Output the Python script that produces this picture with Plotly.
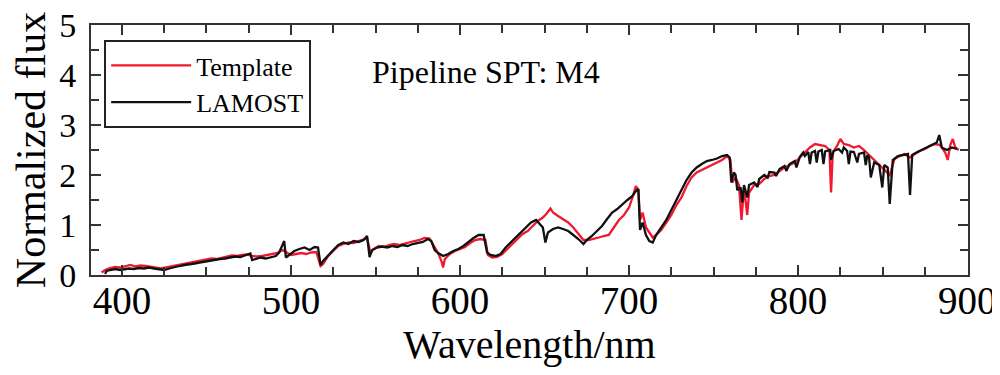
import plotly.graph_objects as go

# LAMOST observed spectrum (black), blue part (390-755 nm)
lamost_wl_a = [390, 391, 393, 396, 399, 401, 404, 407, 410, 413, 416, 419, 422, 425, 428, 431, 434, 437, 440,
               443, 446, 449, 452, 455, 458, 461, 464, 467, 470, 473, 476, 477, 479, 482, 485, 488, 491, 493,
               495, 496, 497, 499, 502, 505, 508, 511, 514, 516, 517.5, 519, 522, 525, 528, 531, 534, 537, 540,
               543, 545, 546.5, 548, 551, 554, 557, 560, 563, 566, 569, 572, 575, 578, 581, 583, 585, 587, 590,
               593, 596, 599, 602, 605, 608, 611, 614, 616, 618, 621, 624, 627, 630, 633, 636, 639, 642, 645,
               647, 649, 650.5, 652, 655, 658, 661, 664, 667, 670, 673, 675, 678, 681, 684, 687, 690, 693, 696,
               699, 702, 704, 705.5, 706.5, 708, 710, 712, 714, 716, 719, 722, 725, 728, 731, 734, 737, 740, 743,
               746, 749, 752, 755]
lamost_flux_a = [0.02, 0.08, 0.10, 0.12, 0.10, 0.11, 0.13, 0.12, 0.14, 0.13, 0.15, 0.13, 0.12, 0.10, 0.13, 0.16,
                 0.18, 0.20, 0.21, 0.23, 0.25, 0.27, 0.28, 0.30, 0.32, 0.33, 0.35, 0.37, 0.36, 0.40, 0.43, 0.30,
                 0.32, 0.35, 0.33, 0.36, 0.38, 0.45, 0.62, 0.68, 0.35, 0.40, 0.48, 0.52, 0.55, 0.50, 0.56, 0.55,
                 0.20, 0.28, 0.40, 0.50, 0.60, 0.65, 0.62, 0.68, 0.66, 0.70, 0.78, 0.36, 0.50, 0.55, 0.57, 0.55,
                 0.58, 0.56, 0.60, 0.58, 0.62, 0.64, 0.66, 0.72, 0.68, 0.50, 0.44, 0.38, 0.42, 0.48, 0.52, 0.58,
                 0.66, 0.74, 0.80, 0.80, 0.45, 0.40, 0.38, 0.42, 0.55, 0.65, 0.75, 0.85, 0.95, 1.05, 1.10, 1.02,
                 0.95, 0.65, 0.85, 0.92, 0.95, 0.92, 0.88, 0.80, 0.72, 0.62, 0.70, 0.78, 0.88, 0.98, 1.12, 1.25,
                 1.32, 1.42, 1.50, 1.58, 1.68, 1.72, 0.90, 1.05, 0.80, 0.68, 0.65, 0.80, 0.95, 1.10, 1.30, 1.50,
                 1.70, 1.90, 2.05, 2.15, 2.22, 2.28, 2.30, 2.33, 2.38]

# LAMOST observed spectrum (black), red part (758-894 nm)
lamost_wl_b = [758, 759.5, 760.5, 762, 763, 764, 766, 767, 768, 770,
               771, 774, 776, 777, 780, 782, 783, 786, 787, 789,
               792, 793, 795, 798, 799, 801, 803, 804, 806, 807,
               808, 810, 811, 812, 814, 815, 816, 819, 819.5, 821,
               824, 826, 827, 829, 830, 831, 833, 835, 836, 839,
               840, 841, 842, 843, 845, 848, 849.8, 851, 853, 854.2,
               856, 859, 862, 865, 866.2, 867.5, 870, 873, 876, 879,
               882, 883.5, 885, 888, 891, 894]
lamost_flux_b = [2.40, 2.35, 1.85, 2.05, 2.00, 1.70, 1.75, 1.45, 1.80, 1.55,
                 1.80, 1.85, 1.76, 1.92, 2.00, 1.95, 2.06, 2.05, 1.98, 2.12,
                 2.18, 2.08, 2.22, 2.28, 2.15, 2.36, 2.45, 2.38, 2.46, 2.22,
                 2.45, 2.48, 2.25, 2.47, 2.50, 2.22, 2.47, 2.50, 2.30, 2.48,
                 2.52, 2.45, 2.55, 2.48, 2.22, 2.47, 2.46, 2.25, 2.42, 2.45,
                 2.20, 2.40, 2.35, 1.95, 2.25, 2.20, 1.75, 2.20, 2.15, 1.42,
                 2.30, 2.38, 2.40, 2.42, 1.60, 2.40, 2.45, 2.50, 2.55, 2.60,
                 2.65, 2.80, 2.55, 2.50, 2.55, 2.52]

# Template spectrum (red)
template_wl = [388, 390, 393, 396, 399, 402, 405, 408, 411, 414, 417, 420, 423, 426, 429, 432, 435, 438, 441,
               444, 447, 450, 453, 456, 459, 462, 465, 468, 471, 474, 477, 480, 483, 486, 489, 492, 495, 497,
               500, 503, 506, 509, 512, 515, 517.5, 519, 522, 525, 528, 531, 534, 537, 540, 543, 545, 547, 549,
               552, 555, 558, 561, 564, 567, 570, 573, 576, 579, 582, 585, 587, 589, 590, 591, 594, 597, 600,
               603, 606, 609, 612, 615, 616.5, 619, 622, 625, 628, 631, 634, 637, 640, 643, 646, 649, 651, 653.5,
               655, 658, 661, 664, 667, 670, 673, 676, 679, 682, 685, 688, 691, 694, 697, 700, 702, 704, 705.5,
               706.5, 708, 710, 712, 714, 716, 719, 722, 725, 728, 731, 734, 737, 740, 743, 746, 749, 752, 755,
               758, 760, 761, 763, 765, 766.5, 768, 769.9, 771, 774, 777, 780, 783, 786, 789, 792, 795, 798, 801,
               804, 807, 810, 813, 816, 818.5, 819.5, 820.5, 823, 825, 827, 830, 833, 836, 839, 842, 845, 848,
               851, 854.2, 857, 860, 863, 866, 869, 872, 875, 878, 881, 884, 887, 888.5, 890, 891.5, 893, 895]
template_flux = [0.05, 0.10, 0.14, 0.16, 0.15, 0.18, 0.20, 0.17, 0.19, 0.18, 0.16, 0.15, 0.13, 0.15, 0.17,
                 0.19, 0.21, 0.24, 0.26, 0.28, 0.30, 0.31, 0.33, 0.32, 0.35, 0.37, 0.39, 0.38, 0.40, 0.41, 0.38,
                 0.37, 0.38, 0.40, 0.42, 0.44, 0.50, 0.46, 0.40, 0.42, 0.44, 0.42, 0.45, 0.46, 0.18, 0.22, 0.38,
                 0.48, 0.58, 0.62, 0.65, 0.64, 0.68, 0.72, 0.74, 0.45, 0.52, 0.58, 0.56, 0.60, 0.62, 0.60, 0.63,
                 0.66, 0.68, 0.70, 0.74, 0.73, 0.55, 0.44, 0.28, 0.15, 0.32, 0.42, 0.48, 0.52, 0.56, 0.64, 0.70,
                 0.72, 0.70, 0.40, 0.35, 0.36, 0.42, 0.52, 0.62, 0.72, 0.82, 0.88, 0.98, 1.08, 1.15, 1.22, 1.33,
                 1.25, 1.18, 1.12, 1.05, 0.95, 0.82, 0.70, 0.70, 0.72, 0.75, 0.78, 0.80, 0.95, 1.10, 1.20, 1.35,
                 1.55, 1.78, 1.70, 1.10, 1.25, 0.95, 0.85, 0.75, 0.80, 0.90, 1.05, 1.20, 1.40, 1.55, 1.78, 1.95,
                 2.05, 2.10, 2.15, 2.20, 2.25, 2.30, 2.38, 2.30, 1.85, 1.95, 1.80, 1.10, 1.75, 1.20, 1.65, 1.80,
                 1.82, 1.92, 1.98, 2.00, 2.08, 2.15, 2.20, 2.25, 2.35, 2.45, 2.55, 2.62, 2.60, 2.58, 2.50, 1.65,
                 2.45, 2.58, 2.72, 2.62, 2.60, 2.55, 2.58, 2.50, 2.40, 2.30, 2.22, 2.10, 2.00, 2.32, 2.38, 2.42,
                 2.35, 2.42, 2.48, 2.52, 2.58, 2.62, 2.60, 2.45, 2.30, 2.60, 2.72, 2.55, 2.50]

x_ticks = [400, 500, 600, 700, 800, 900]
y_ticks = [0, 1, 2, 3, 4, 5]

lamost_wl = lamost_wl_a + lamost_wl_b
lamost_flux = lamost_flux_a + lamost_flux_b

FONT = "Liberation Serif"
AXC = "#333333"

fig = go.Figure()
fig.add_trace(go.Scatter(x=template_wl, y=template_flux, mode="lines", name="Template",
                         line=dict(color="#f0192f", width=2.3)))
fig.add_trace(go.Scatter(x=lamost_wl, y=lamost_flux, mode="lines", name="LAMOST",
                         line=dict(color="#111111", width=2.3)))

fig.add_annotation(x=0.318, y=0.81, xref="paper", yref="paper", text="Pipeline SPT: M4",
                   showarrow=False, xanchor="left", yanchor="middle",
                   font=dict(family=FONT, size=32, color="black"))

# the page body adds an 8px offset, so the figure is sized to fit the 1000x375 window
fig.update_layout(
    width=992, height=359,
    margin=dict(l=83, r=32, t=17, b=92, autoexpand=False),
    paper_bgcolor="white", plot_bgcolor="white",
    font=dict(family=FONT, color="black"),
    showlegend=True,
    legend=dict(x=0.015, y=0.94, xanchor="left", yanchor="top",
                bgcolor="white", bordercolor="#222222", borderwidth=2,
                font=dict(family=FONT, size=26, color="black"),
                tracegroupgap=0, itemwidth=80),
)
fig.update_xaxes(
    range=[381.7, 900.5], tickvals=x_ticks, ticktext=[str(v) for v in x_ticks],
    ticks="inside", ticklen=10, tickwidth=2, tickcolor=AXC,
    minor=dict(dtick=25, ticks="inside", ticklen=8, tickwidth=2, tickcolor=AXC),
    showline=True, linecolor=AXC, linewidth=2, mirror="ticks",
    showgrid=False, zeroline=False, automargin=False, ticklabeloverflow="allow",
    tickfont=dict(family=FONT, size=39, color="black"), ticklabelstandoff=-10,
    title=dict(text="Wavelength/nm", font=dict(family=FONT, size=40, color="black"), standoff=12),
)
fig.update_yaxes(
    range=[0, 5], tickvals=y_ticks, ticktext=[str(v) for v in y_ticks],
    ticks="inside", ticklen=10, tickwidth=2, tickcolor=AXC,
    minor=dict(dtick=0.5, ticks="inside", ticklen=8, tickwidth=2, tickcolor=AXC),
    showline=True, linecolor=AXC, linewidth=2, mirror="ticks",
    showgrid=False, zeroline=False, automargin=False, ticklabeloverflow="allow",
    tickfont=dict(family=FONT, size=34, color="black"), ticklabelstandoff=6,
    title=dict(text="Normalized flux", font=dict(family=FONT, size=42, color="black"), standoff=4),
)

fig.write_html("out.html")
